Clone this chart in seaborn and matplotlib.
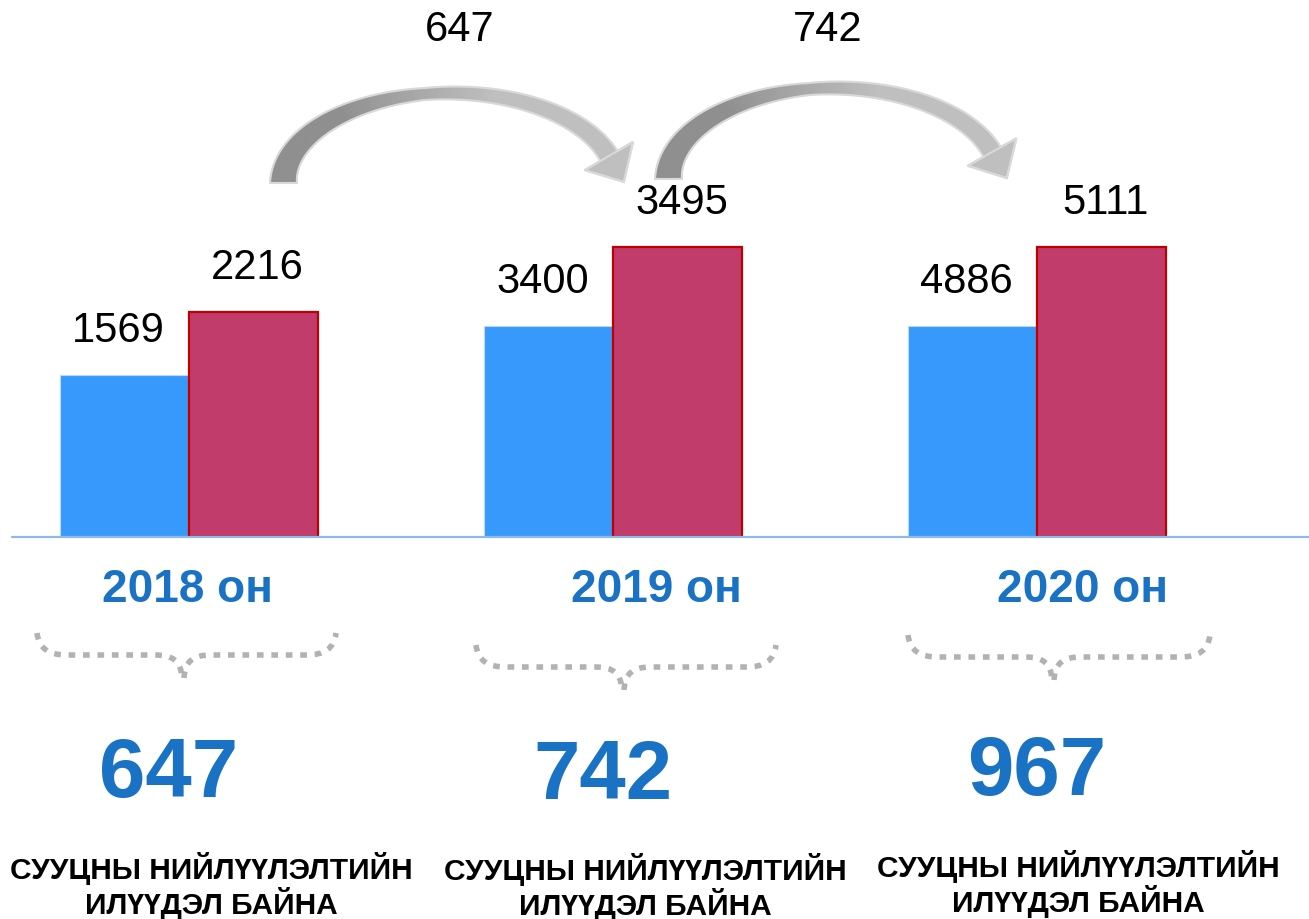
import numpy as np
import pandas as pd
import matplotlib
matplotlib.use("Agg")
import matplotlib.pyplot as plt
import seaborn as sns
from matplotlib.patches import PathPatch, Polygon
from matplotlib.path import Path

# ---------------- data ----------------
years = ["2018 он", "2019 он", "2020 он"]
series = ["A", "B"]
values_a = [1569, 3400, 4886]          # blue bars (labels)
values_b = [2216, 3495, 5111]          # red bars (labels)
# pictorial bar heights as drawn in the reference (relative units)
drawn_a = [162, 211, 211]
drawn_b = [225, 290, 290]
arrow_labels = ["647", "742"]
surplus = ["647", "742", "967"]
caption = "СУУЦНЫ НИЙЛҮҮЛЭЛТИЙН\nИЛҮҮДЭЛ БАЙНА"

BLUE = "#3899fd"
RED = "#c13b6b"
RED_EDGE = "#c00000"
TXT_BLUE = "#1a72c4"

W, H = 1309, 919
sns.set_theme(style="white")
plt.rcParams["font.family"] = ["Liberation Sans", "DejaVu Sans"]

fig = plt.figure(figsize=(W / 100, H / 100), dpi=100)
fig.patch.set_facecolor("white")

def fx(x):
    return x / W

def fy(y):
    return 1 - y / H

base_y = 537
unit = 424.0
x0 = 189.0
ax = fig.add_axes([0, fy(base_y), 1, base_y / H])

df = pd.DataFrame({
    "year": years * 2,
    "series": [series[0]] * 3 + [series[1]] * 3,
    "height": drawn_a + drawn_b,
})
sns.barplot(data=df, x="year", y="height", hue="series", order=years,
            hue_order=series, palette=[BLUE, RED], width=0.608,
            saturation=1, legend=False, ax=ax)
ax.set_xlim(-x0 / unit, (W - x0) / unit)
ax.set_ylim(0, base_y)

for bar in ax.containers[0]:
    bar.set_edgecolor("#bcd9fb")
    bar.set_linewidth(0.8)
for bar in ax.containers[1]:
    bar.set_edgecolor(RED_EDGE)
    bar.set_linewidth(1.6)

for cont, vals, dx in [(ax.containers[0], values_a, -6), (ax.containers[1], values_b, 4)]:
    for bar, v in zip(cont, vals):
        cx = bar.get_x() + bar.get_width() / 2
        ax.annotate(str(v), (cx, bar.get_height()), xytext=(dx * 0.72, 17),
                    textcoords="offset points", ha="center", va="bottom",
                    fontsize=30, color="black")

for s in ax.spines.values():
    s.set_visible(False)
ax.set_xticks([])
ax.set_yticks([])
ax.set_xlabel("")
ax.set_ylabel("")
ax.patch.set_alpha(0)

# baseline
fig.add_artist(plt.Line2D([fx(12), fx(W)], [fy(base_y), fy(base_y)],
                          color="#8cbbe8", lw=1.6, transform=fig.transFigure))

# year labels
year_dx = [-1, 43, 46]
for i, (yl, dx) in enumerate(zip(years, year_dx)):
    px = x0 + i * unit + dx
    fig.text(fx(px), fy(590), yl, ha="center", va="center", fontsize=33,
             fontweight="bold", color=TXT_BLUE)


# curved arrows (elliptical band with arrow head), pixel coords y-down
def lerp(c1, c2, t):
    return tuple(a + (b - a) * t for a, b in zip(c1, c2))


def curved_arrow(x_tail, x_ctr, y_base, b, y_head, w_tail, w_top, w_head,
                 head_w, head_len):
    a = x_ctr - x_tail
    th_end = np.arcsin((y_base - y_head) / b)
    th = np.linspace(np.pi, th_end, 120)
    cxs = x_ctr + a * np.cos(th)
    cys = y_base - b * np.sin(th)
    tx = a * np.sin(th)
    ty = b * np.cos(th)
    n = np.hypot(tx, ty)
    tx, ty = tx / n, ty / n
    nx, ny = ty, -tx
    u = (np.pi - th) / (np.pi - th_end)
    w = np.where(u < 0.5, w_tail + (w_top - w_tail) * (u / 0.5),
                 w_top + (w_head - w_top) * ((u - 0.5) / 0.5))
    ox, oy = cxs + nx * w / 2, cys + ny * w / 2
    ix, iy = cxs - nx * w / 2, cys - ny * w / 2
    dark = (0.56, 0.56, 0.56)
    light = (0.75, 0.75, 0.75)
    for i in range(len(th) - 1):
        t = np.clip((u[i] - 0.3) / 0.35, 0, 1)
        col = lerp(dark, light, t)
        quad = [(fx(ox[i]), fy(oy[i])), (fx(ox[i + 1]), fy(oy[i + 1])),
                (fx(ix[i + 1]), fy(iy[i + 1])), (fx(ix[i]), fy(iy[i]))]
        fig.add_artist(Polygon(quad, closed=True, transform=fig.transFigure,
                               facecolor=col, edgecolor=col, lw=0.6))
    px, py = cxs[-1], cys[-1]
    dx, dy = tx[-1], ty[-1]
    nx_, ny_ = nx[-1], ny[-1]
    head = [(px + nx_ * head_w / 2, py + ny_ * head_w / 2),
            (px + dx * head_len, py + dy * head_len),
            (px - nx_ * head_w / 2, py - ny_ * head_w / 2)]
    edge_c = "#d9d9d9"
    outline = ([(ix[0], iy[0]), (ox[0], oy[0])] + list(zip(ox, oy)) +
               [head[0], head[1], head[2]] + list(zip(ix[::-1], iy[::-1])))
    fig.add_artist(Polygon([(fx(x), fy(y)) for x, y in head], closed=True,
                           transform=fig.transFigure, facecolor=light,
                           edgecolor=edge_c, lw=1.5))
    fig.add_artist(Polygon([(fx(x), fy(y)) for x, y in outline], closed=True,
                           transform=fig.transFigure, facecolor="none",
                           edgecolor=edge_c, lw=1.5))


curved_arrow(283.5, 450, 183, 90, 156, 27, 12, 20, 56, 30)
curved_arrow(668.5, 834, 179, 91, 152, 27, 12, 20, 56, 30)
label_pos = [(460, 30), (828, 30)]
for lab, lp in zip(arrow_labels, label_pos):
    fig.text(fx(lp[0]), fy(lp[1]), lab, ha="center", va="center",
             fontsize=30, color="black")

# dotted braces
braces = [(37, 336, 183, 633), (476, 776, 623, 645), (908, 1210, 1053, 635)]
for L, R, cx, top in braces:
    yh = top + 22
    tip = top + 45
    verts = [
        (L, top), (L + 2, top + 16), (L + 12, yh), (L + 30, yh),
        (cx - 28, yh),
        (cx - 10, yh), (cx - 2, yh + 6), (cx - 1, tip),
        (cx + 1, tip),
        (cx + 2, yh + 6), (cx + 10, yh), (cx + 28, yh),
        (R - 30, yh),
        (R - 12, yh), (R - 2, top + 16), (R, top),
    ]
    codes = [Path.MOVETO, Path.CURVE4, Path.CURVE4, Path.CURVE4,
             Path.LINETO,
             Path.CURVE4, Path.CURVE4, Path.CURVE4,
             Path.MOVETO,
             Path.CURVE4, Path.CURVE4, Path.CURVE4,
             Path.LINETO,
             Path.CURVE4, Path.CURVE4, Path.CURVE4]
    verts_f = [(fx(x), fy(y)) for x, y in verts]
    pp = PathPatch(Path(verts_f, codes), transform=fig.transFigure,
                   facecolor="none", edgecolor="#b4b1b1", lw=4.0,
                   linestyle=(0, (1.2, 1.4)), capstyle="butt")
    fig.add_artist(pp)

# surplus numbers
sur_pos = [(169, 775), (603, 777), (1037, 773)]
for s, (px, py) in zip(surplus, sur_pos):
    fig.text(fx(px), fy(py), s, ha="center", va="center", fontsize=60,
             fontweight="bold", color=TXT_BLUE)

# captions
cap_x = [211, 645, 1078]
cap_y = [886, 887, 884]
for px, py in zip(cap_x, cap_y):
    fig.text(fx(px), fy(py), caption, ha="center", va="center", fontsize=21.5,
             fontweight="bold", color="black", linespacing=1.08)

fig.savefig("out.png", dpi=100, facecolor="white")
